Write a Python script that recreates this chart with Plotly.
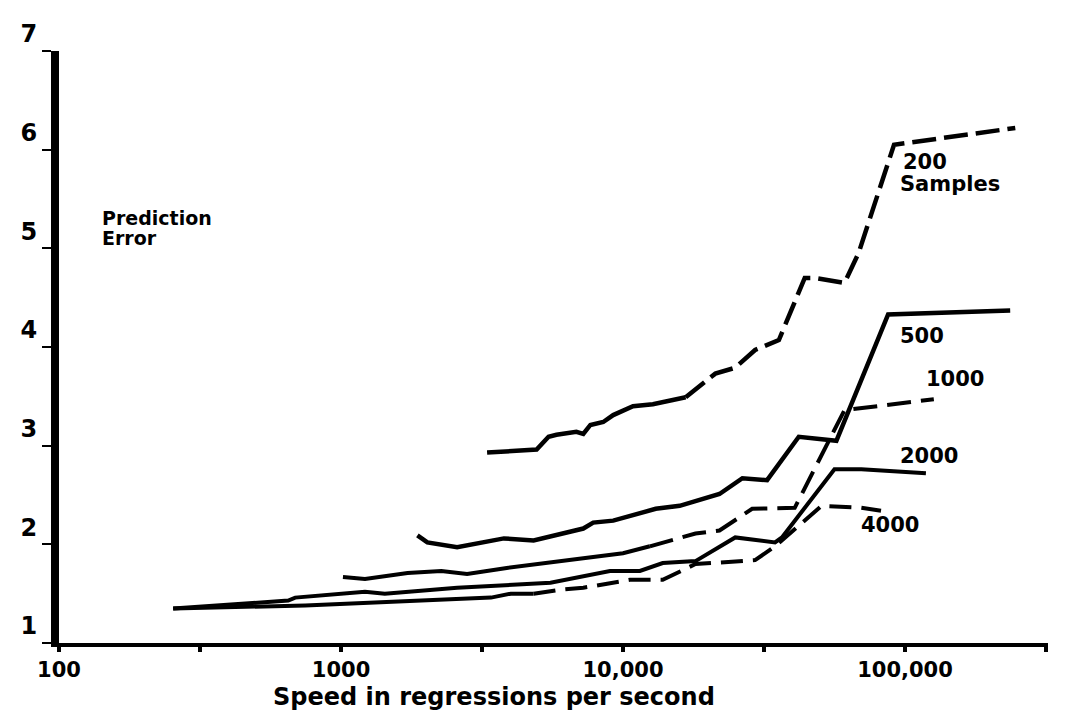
import plotly.graph_objects as go

# ---- data ----
x200 = [3296, 4940, 5445, 5808, 6833, 7230, 7660, 8510, 9230, 10850, 12760, 14630, 16680,
        19150, 21250, 25000, 29400, 35700, 44100, 47900, 61000, 68400, 91400, 246000]
y200 = [2.93, 2.96, 3.09, 3.11, 3.14, 3.12, 3.21, 3.24, 3.31, 3.40, 3.42, 3.46, 3.49,
        3.62, 3.73, 3.79, 3.97, 4.07, 4.70, 4.70, 4.65, 4.95, 6.05, 6.22]

x500 = [1866, 2024, 2581, 3404, 3780, 4820, 7230, 7840, 9230, 13060, 15880, 21980, 26500,
        32430, 42000, 57100, 87100, 236000]
y500 = [2.09, 2.02, 1.97, 2.03, 2.06, 2.04, 2.16, 2.22, 2.24, 2.36, 2.39, 2.51, 2.67,
        2.65, 3.09, 3.05, 4.33, 4.37]

x1000 = [1016, 1216, 1722, 2268, 2800, 3870, 7230, 10000, 12450, 18070, 21980, 28700,
         40640, 61000, 126500]
y1000 = [1.67, 1.65, 1.71, 1.73, 1.70, 1.76, 1.86, 1.91, 1.98, 2.11, 2.14, 2.36,
         2.37, 3.36, 3.47]

x2000 = [254, 527, 650, 688, 1009, 1216, 1430, 2581, 5530, 7230, 8990, 11480, 13830,
         18070, 25000, 34600, 36600, 56200, 70000, 118600]
y2000 = [1.35, 1.42, 1.43, 1.46, 1.50, 1.52, 1.50, 1.56, 1.61, 1.68, 1.73, 1.73, 1.81,
         1.83, 2.07, 2.02, 2.07, 2.76, 2.76, 2.72]

x4000 = [254, 746, 3404, 4000, 4820, 6000, 7230, 8040, 10590, 13830, 18070, 29400, 34600,
         50600, 70000, 82200]
y4000 = [1.35, 1.38, 1.46, 1.50, 1.50, 1.54, 1.56, 1.58, 1.64, 1.64, 1.80, 1.84, 1.98,
         2.39, 2.37, 2.34]

x_tickvals = [100, 316.23, 1000, 3162.3, 10000, 31623, 100000, 316228]
x_ticktext = ["100", "", "1000", "", "10,000", "", "100,000", ""]
y_tickvals = [1, 2, 3, 4, 5, 6, 7]
y_ticktext = ["1", "2", "3", "4", "5", "6", "7"]

series_labels = ["200", "Samples", "500", "1000", "2000", "4000"]
y_title_lines = ["Prediction", "Error"]
x_title = "Speed in regressions per second"

# ---- style ----
FONT = "DejaVu Sans"
BLACK = "black"

fig = go.Figure()


def add_series(x, y, width, dash=None, split=None):
    if dash is None:
        fig.add_trace(go.Scatter(x=x, y=y, mode="lines",
                                 line=dict(color=BLACK, width=width)))
        return
    fig.add_trace(go.Scatter(x=x[:split + 1], y=y[:split + 1], mode="lines",
                             line=dict(color=BLACK, width=width)))
    fig.add_trace(go.Scatter(x=x[split:], y=y[split:], mode="lines",
                             line=dict(color=BLACK, width=width, dash=dash)))


add_series(x200, y200, 4.5, dash="24px,8px", split=12)
add_series(x500, y500, 4.5)
add_series(x1000, y1000, 4.0, dash="24px,10px", split=8)
add_series(x2000, y2000, 4.0)
add_series(x4000, y4000, 4.0, dash="22px,10px", split=4)

# page has an 8px body margin; layout is expressed in page pixels
OFF = 8
PAGE_W, PAGE_H = 1069, 710
PLOT_L, PLOT_R, PLOT_T, PLOT_B = 52, 1048, 43, 643   # page pixels of the plot area
W, H = PAGE_W - OFF, PAGE_H - OFF
L, T = PLOT_L - OFF, PLOT_T - OFF
R = W - (PLOT_R - OFF)
B = H - (PLOT_B - OFF)
pw, ph = PLOT_R - PLOT_L, PLOT_B - PLOT_T


def px(xpix):
    return (xpix - PLOT_L) / pw


def py(ypix):
    return (PLOT_B - ypix) / ph


xr = [2, 5.507]
yr = [1, 7]

fig.update_layout(
    width=W, height=H,
    margin=dict(l=L, r=R, t=T, b=B),
    paper_bgcolor="white", plot_bgcolor="white",
    showlegend=False,
    font=dict(family=FONT, color=BLACK),
    xaxis=dict(type="log", range=xr, tickmode="array", tickvals=x_tickvals,
               ticktext=[f"<b>{t}</b>" if t else "" for t in x_ticktext],
               ticks="outside", ticklen=5, tickwidth=4, tickcolor=BLACK,
               showline=True, linewidth=4, linecolor=BLACK,
               showgrid=False, zeroline=False,
               tickfont=dict(family=FONT, size=21, color=BLACK)),
    yaxis=dict(range=yr, tickmode="array", tickvals=y_tickvals,
               ticktext=[f"<b>{t}</b>" for t in y_ticktext],
               ticks="outside", ticklen=9, tickwidth=2, tickcolor=BLACK,
               showline=True, linewidth=8, linecolor=BLACK,
               showgrid=False, zeroline=False, ticklabelshift=-17,
               tickfont=dict(family=FONT, size=24, color=BLACK)),
    xaxis2=dict(type="log", range=xr, overlaying="x", anchor="y", side="bottom",
                tickmode="array", tickvals=x_tickvals, showticklabels=False,
                ticks="inside", ticklen=5, tickwidth=4, tickcolor=BLACK,
                showline=False, showgrid=False, zeroline=False),
    yaxis2=dict(range=yr, overlaying="y", anchor="x", side="left",
                tickmode="array", tickvals=y_tickvals, showticklabels=False,
                ticks="inside", ticklen=5, tickwidth=2, tickcolor=BLACK,
                showline=False, showgrid=False, zeroline=False),
)

ann = []
ann.append(dict(text=f"<b>{x_title}</b>", x=px(490), y=py(698), xref="paper", yref="paper",
                xanchor="center", yanchor="middle", showarrow=False,
                font=dict(family=FONT, size=24, color=BLACK)))
for text, ly in zip(y_title_lines, [212, 233]):
    ann.append(dict(text=f"<b>{text}</b>", x=px(93), y=py(ly), xref="paper", yref="paper",
                    xanchor="left", yanchor="middle", showarrow=False,
                    font=dict(family=FONT, size=19, color=BLACK)))
label_pos = [(900, 155), (897, 178), (897, 332), (923, 375), (897, 453), (858, 523)]
for text, (lx, ly) in zip(series_labels, label_pos):
    ann.append(dict(text=f"<b>{text}</b>", x=px(lx), y=py(ly), xref="paper", yref="paper",
                    xanchor="left", yanchor="middle", showarrow=False,
                    font=dict(family=FONT, size=21, color=BLACK)))
fig.update_layout(annotations=ann)

fig.write_html("out.html")
